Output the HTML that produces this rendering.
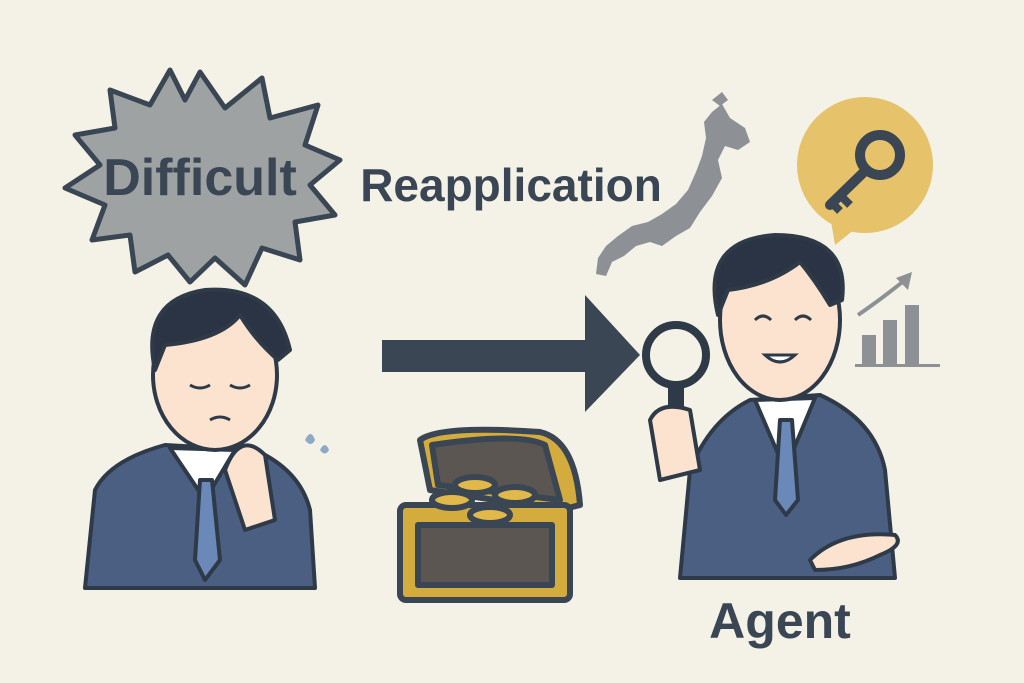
<!DOCTYPE html>
<html><head><meta charset="utf-8"><style>
html,body{margin:0;padding:0;background:#f4f1e6;}
svg{display:block}
text{font-family:"Liberation Sans",sans-serif;font-weight:bold;fill:#3a4654}
</style></head><body>
<svg width="1024" height="683" viewBox="0 0 1024 683" xmlns="http://www.w3.org/2000/svg">
<rect width="1024" height="683" fill="#f4f1e6"/>
<!-- starburst -->
<polygon fill="#9ea2a3" stroke="#3a4654" stroke-width="5" stroke-linejoin="round" points="200,72 225,108 262,78 270,118 318,105 305,145 340,160 310,185 335,215 295,222 300,260 262,248 245,285 215,258 190,282 168,255 135,272 130,235 92,240 105,205 65,188 100,165 75,135 115,128 110,90 150,105 170,70 185,100"/>
<text x="200" y="195" font-size="52" text-anchor="middle">Difficult</text>
<text x="511" y="201" font-size="46" text-anchor="middle">Reapplication</text>
<text x="780" y="638" font-size="50" text-anchor="middle">Agent</text>
<!-- japan -->
<path fill="#8d9196" d="M712,112 L722,104 L730,118 L745,128 L750,142 L738,150 L725,146 L718,160 L722,178 L712,196 L700,212 L690,228 L676,236 L662,246 L650,242 L636,246 L624,256 L612,262 L606,276 L596,274 L598,258 L606,246 L618,236 L632,226 L648,222 L662,214 L676,204 L688,190 L696,172 L702,156 L706,138 L704,122 Z M712,100 L722,92 L728,100 L720,106 Z"/>
<!-- key bubble -->
<circle cx="865" cy="165" r="68" fill="#e6c36a"/>
<polygon points="830,215 835,245 860,225" fill="#e6c36a"/>
<circle cx="880" cy="155" r="20" fill="none" stroke="#3a4654" stroke-width="10"/>
<line x1="866" y1="170" x2="830" y2="205" stroke="#3a4654" stroke-width="10" stroke-linecap="round"/>
<line x1="840" y1="195" x2="850" y2="205" stroke="#3a4654" stroke-width="8"/>
<line x1="832" y1="203" x2="840" y2="211" stroke="#3a4654" stroke-width="8"/>
<!-- chart -->
<g fill="#8d9196"><rect x="862" y="335" width="14" height="30"/><rect x="883" y="320" width="14" height="45"/><rect x="905" y="305" width="14" height="60"/><rect x="855" y="364" width="85" height="3"/></g>
<path d="M858,315 Q880,300 905,280" stroke="#8d9196" stroke-width="4" fill="none"/>
<polygon points="912,272 896,278 908,290" fill="#8d9196"/>
<!-- arrow -->
<path d="M382,340 L585,340 L585,295 L640,355 L585,412 L585,372 L382,372 Z" fill="#3a4654" stroke-linejoin="round"/>
<!-- chest -->
<g stroke="#3a4654" stroke-width="6" stroke-linejoin="round">
<path d="M430,490 L420,440 Q440,425 540,432 Q575,440 580,505 L560,510 Z" fill="#d4ac3e"/>
<path d="M438,485 L432,445 Q520,432 545,445 L560,500 Z" fill="#5b5652"/>
<rect x="400" y="505" width="170" height="95" rx="6" fill="#d4ac3e"/>
<rect x="418" y="525" width="134" height="60" fill="#5b5652"/>
<g fill="#e0b94a"><ellipse cx="452" cy="500" rx="20" ry="8"/><ellipse cx="475" cy="485" rx="20" ry="8"/><ellipse cx="515" cy="495" rx="20" ry="8"/><ellipse cx="490" cy="515" rx="20" ry="8"/></g>
</g>
<!-- left person -->
<g stroke="#2f3a48" stroke-width="4" stroke-linejoin="round">
<path d="M85,588 L95,490 Q110,460 165,445 L255,450 Q300,470 310,510 L315,588 Z" fill="#4a5f82"/>
<path d="M170,448 L205,500 L235,450 Z" fill="#fff"/>
<path d="M200,480 L212,480 L220,560 L205,580 L195,560 Z" fill="#6a88b8"/>
<ellipse cx="215" cy="375" rx="62" ry="75" fill="#fbe3cf"/>
<path d="M155,370 Q140,300 205,290 Q275,285 290,350 L278,360 Q255,340 240,315 Q220,340 165,345 Z" fill="#2b3444"/>
<path d="M225,470 Q240,430 265,455 L275,520 L245,530 Z" fill="#fbe3cf"/>
</g>
<path d="M190,385 q10,6 20,0 M230,385 q10,6 20,0 M210,420 q10,-6 20,0" stroke="#2f3a48" stroke-width="3" fill="none"/>
<path d="M305,440 q6,-12 10,0 q-4,8 -10,0 M320,450 q5,-10 9,0 q-4,7 -9,0" fill="#8fa8c8"/>
<!-- right person -->
<g stroke="#2f3a48" stroke-width="4" stroke-linejoin="round">
<path d="M680,578 L690,470 Q710,420 750,400 L820,395 Q875,420 885,470 L895,578 Z" fill="#4a5f82"/>
<path d="M755,400 L785,470 L815,398 Z" fill="#fff"/>
<path d="M780,420 L792,420 L798,500 L786,515 L775,500 Z" fill="#6a88b8"/>
<ellipse cx="780" cy="320" rx="60" ry="80" fill="#fbe3cf"/>
<path d="M718,315 Q700,240 775,235 Q850,235 842,300 L830,305 Q815,280 800,262 Q770,285 728,290 Z" fill="#2b3444"/>
<circle cx="676" cy="355" r="30" fill="#f4f1e6" stroke-width="8"/>
<rect x="670" y="385" width="12" height="35" fill="#2f3a48"/>
<path d="M650,420 Q660,400 690,410 L700,470 L660,480 Z" fill="#fbe3cf"/>
<path d="M810,560 Q840,530 895,535 Q905,545 880,555 Q850,570 815,570 Z" fill="#fbe3cf"/>
</g>
<path d="M755,320 q8,-8 16,0 M795,320 q8,-8 16,0" stroke="#2f3a48" stroke-width="3" fill="none"/>
<path d="M765,355 q15,14 30,0 Z" fill="#fff" stroke="#2f3a48" stroke-width="3"/>
</svg>
</body></html>
